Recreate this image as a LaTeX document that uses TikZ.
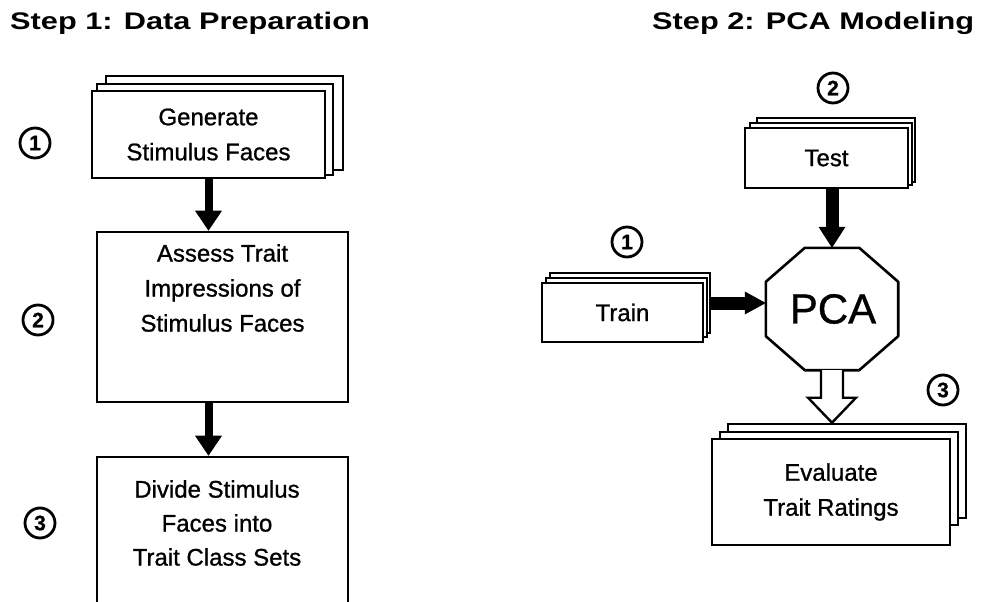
\documentclass[tikz,border=0pt]{standalone}
\usepackage{fontspec}
\setmainfont{Liberation Sans}[FakeBold=0.9]
\newfontfamily\titlefont{Liberation Sans}[FakeStretch=1.28]
\usetikzlibrary{arrows.meta,calc}

\begin{document}
\begin{tikzpicture}[x=1pt,y=-1pt,
  box/.style={draw, line width=2.6pt, fill=white, rectangle, inner sep=0pt,
    align=center, font=\fontsize{24}{35}\selectfont},
  btext/.style={align=center, inner sep=0pt, font=\fontsize{24}{35}\selectfont},
  steptitle/.style={inner sep=0pt, anchor=base west,
    font=\titlefont\bfseries\fontsize{24}{28}\selectfont},
  num/.style={draw, circle, line width=2.8pt, minimum size=30pt, inner sep=0pt,
    font=\fontsize{21}{21}\selectfont\bfseries},
  thinshaft/.style={line width=8pt,
    -{Triangle[length=20pt, width=27pt, line width=0pt]}},
  thickshaft/.style={line width=13pt,
    -{Triangle[length=21pt, width=#1, line width=0pt]}},
  octagon/.style={draw, line width=2.6pt, fill=white, line join=round},
  hollow/.style={draw, line width=2.4pt, fill=white, line join=miter}
]
\useasboundingbox (0,0) rectangle (988,602);
\clip (0,0) rectangle (988,602);

% ---------- titles ----------
\node[steptitle] (t1) at (10,30) {Step 1: Data Preparation};
\node[steptitle] (t2) at (652,30) {Step 2: PCA Modeling};

% ---------- Step 1 ----------
\node[box, minimum width=237pt, minimum height=94pt] (gen3) at (224.5,123) {};
\node[box, minimum width=236pt, minimum height=91pt] (gen2) at (215,129.5) {};
\node[box, minimum width=233pt, minimum height=87pt] (gen) at (208.5,134.5)
  {Generate\\Stimulus Faces};

\node[box, minimum width=251pt, minimum height=170pt] (assess) at (222.5,317) {};
\node[btext] (assesstext) at (222.5,288)
  {Assess Trait\\Impressions of\\Stimulus Faces};

\node[box, minimum width=251pt, minimum height=220pt] (divide) at (222.5,567) {};
\node[btext, font=\fontsize{24}{34}\selectfont] (dividetext) at (217,523)
  {Divide Stimulus\\Faces into\\Trait Class Sets};

\draw[thinshaft] (gen.south) -- (gen.south |- assess.north);
\draw[thinshaft] (gen.south |- assess.south) -- (gen.south |- divide.north);

\node[num] (n1) at (35,143) {1};
\node[num] (n2) at (38,320) {2};
\node[num] (n3) at (40,523) {3};

% ---------- Step 2 ----------
\node[num] (m2) at (833,88) {2};
\node[box, minimum width=158pt, minimum height=64pt] (test3) at (836,150) {};
\node[box, minimum width=162pt, minimum height=62pt] (test2) at (831,154) {};
\node[box, minimum width=163pt, minimum height=60pt] (test) at (826.5,158) {Test};

\node[num] (m1) at (627,242) {1};
\node[box, minimum width=160pt, minimum height=60pt] (train3) at (630,303) {};
\node[box, minimum width=161pt, minimum height=59pt] (train2) at (626.5,307.5) {};
\node[box, minimum width=161pt, minimum height=59pt] (train) at (622.5,312.5) {Train};

% octagon around the PCA label
\node[minimum width=132pt, minimum height=122pt, inner sep=0pt] (pca) at (832,309) {};
\draw[octagon]
  ($(pca.north west)+(39,0)$) -- ($(pca.north east)+(-39,0)$) --
  ($(pca.north east)+(0,34)$) -- ($(pca.south east)+(0,-34)$) --
  ($(pca.south east)+(-39,0)$) -- ($(pca.south west)+(39,0)$) --
  ($(pca.south west)+(0,-34)$) -- ($(pca.north west)+(0,34)$) -- cycle;
\node[font=\fontsize{42}{42}\selectfont, inner sep=0pt] (pcatext) at (833,309) {PCA};

\draw[thickshaft=27pt] (pca.north |- test.south) -- (pca.north);
\draw[thickshaft=23pt] (train3.east) -- (pca.west |- train3.east);

\node[num] (m3) at (943,390) {3};
\node[box, minimum width=238pt, minimum height=94pt] (ev3) at (847,471) {};
\node[box, minimum width=238pt, minimum height=93pt] (ev2) at (839,478.5) {};
\node[box, minimum width=238pt, minimum height=106pt] (ev) at (831,492)
  {Evaluate\\Trait Ratings};

% open block arrow from PCA down to the evaluation stack
\path[hollow]
  ($(pca.south)+(-11,0)$) --
  ($(pca.south |- ev3.north)+(-11,-25)$) --
  ($(pca.south |- ev3.north)+(-24,-25)$) --
  (pca.south |- ev3.north) --
  ($(pca.south |- ev3.north)+(24,-25)$) --
  ($(pca.south |- ev3.north)+(11,-25)$) --
  ($(pca.south)+(11,0)$);
\end{tikzpicture}
\end{document}
